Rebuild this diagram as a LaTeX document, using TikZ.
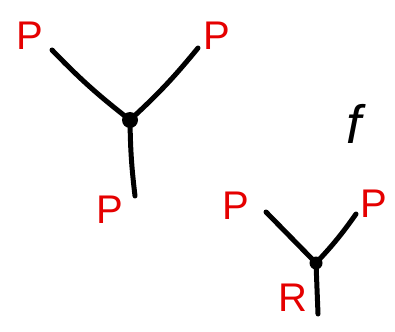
\documentclass[tikz,border=0pt]{standalone}
\usepackage{fontspec}
\setmainfont{Liberation Sans}
\begin{document}
\begin{tikzpicture}[x=1pt,y=-1pt,
  arm/.style={line width=5pt,line cap=round,line join=round},
  vert/.style={circle,fill=black,inner sep=0pt,minimum size=16pt},
  lab/.style={text=red!90!black,font=\fontsize{40}{40}\selectfont},
  fun/.style={font=\fontsize{54}{54}\selectfont\itshape}]
  \fill[white] (0,0) rectangle (395,331);
  \useasboundingbox (0,0) rectangle (395,331);
  % upper vertex with three P legs
  \node[vert] (v1) at (130,120) {};
  \coordinate (a1) at (52,50);
  \coordinate (b1) at (198,48);
  \coordinate (c1) at (135,196);
  \draw[arm] (v1.center) to[bend left=4] (a1);
  \draw[arm] (v1.center) to[bend right=4] (b1);
  \draw[arm] (v1.center) to[bend right=3] (c1);
  \node[lab] (pa1) at (30,36) {P};
  \node[lab] (pb1) at (217,36) {P};
  \node[lab] (pc1) at (110,210) {P};
  % function symbol
  \node[fun] (f) at (354,124) {f};
  % lower vertex with legs P, P and R
  \node[vert, minimum size=13pt] (v2) at (316,263) {};
  \coordinate (a2) at (266,212);
  \coordinate (b2) at (356,214);
  \coordinate (c2) at (318,314);
  \draw[arm] (v2.center) -- (a2);
  \draw[arm] (v2.center) to[bend right=4] (b2);
  \draw[arm] (v2.center) -- (c2);
  \node[lab] (pa2) at (236,206) {P};
  \node[lab] (pb2) at (374,204) {P};
  \node[lab] (r2) at (293,298) {R};
\end{tikzpicture}
\end{document}
